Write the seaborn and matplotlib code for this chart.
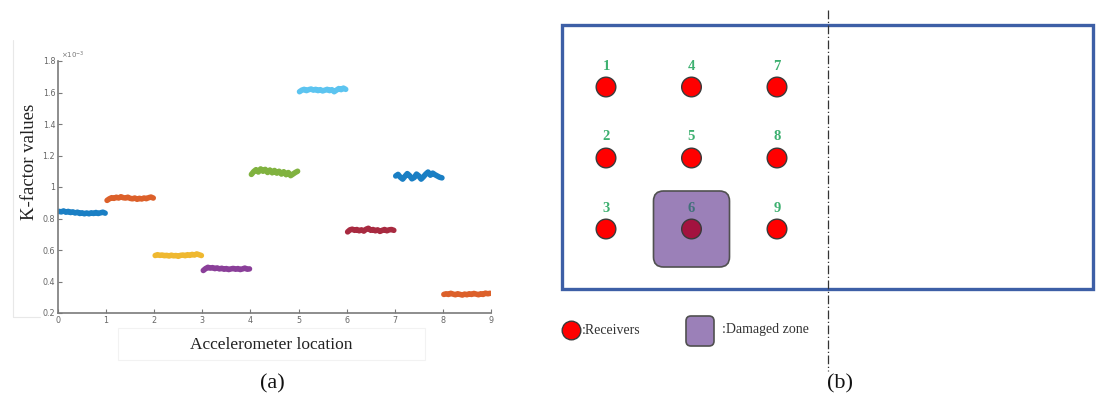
import numpy as np
import pandas as pd
import matplotlib
matplotlib.use("Agg")
import matplotlib.pyplot as plt
from matplotlib.patches import FancyBboxPatch, Rectangle
from matplotlib.ticker import FuncFormatter
import seaborn as sns

# ---------------- data ----------------
locations = [0, 1, 2, 3, 4, 5, 6, 7, 8]
# K-factor values (x 1e-3) read along each accelerometer segment
seg0 = [0.845, 0.842, 0.848, 0.840, 0.845, 0.838, 0.842, 0.835, 0.840, 0.832, 0.836,
        0.830, 0.835, 0.830, 0.836, 0.832, 0.838, 0.832, 0.836, 0.840, 0.834]
seg1 = [0.915, 0.925, 0.932, 0.928, 0.935, 0.930, 0.938, 0.932, 0.930, 0.935, 0.928,
        0.925, 0.930, 0.922, 0.928, 0.924, 0.930, 0.926, 0.932, 0.936, 0.930]
seg2 = [0.565, 0.570, 0.566, 0.568, 0.564, 0.566, 0.562, 0.567, 0.563, 0.565, 0.560,
        0.566, 0.568, 0.564, 0.570, 0.566, 0.572, 0.568, 0.575, 0.570, 0.565]
seg3 = [0.470, 0.482, 0.490, 0.485, 0.488, 0.482, 0.486, 0.480, 0.484, 0.478, 0.482,
        0.476, 0.480, 0.483, 0.478, 0.482, 0.476, 0.480, 0.485, 0.478, 0.480]
seg4 = [1.080, 1.098, 1.110, 1.095, 1.115, 1.100, 1.112, 1.092, 1.108, 1.090, 1.105,
        1.088, 1.100, 1.082, 1.097, 1.078, 1.092, 1.072, 1.082, 1.092, 1.100]
seg5 = [1.605, 1.615, 1.620, 1.612, 1.618, 1.622, 1.615, 1.620, 1.612, 1.618, 1.610,
        1.615, 1.620, 1.612, 1.618, 1.605, 1.615, 1.625, 1.618, 1.628, 1.620]
seg6 = [0.715, 0.728, 0.732, 0.725, 0.730, 0.722, 0.728, 0.720, 0.732, 0.738, 0.725,
        0.730, 0.722, 0.728, 0.718, 0.725, 0.730, 0.722, 0.728, 0.730, 0.725]
seg7 = [1.070, 1.080, 1.062, 1.050, 1.068, 1.085, 1.072, 1.052, 1.060, 1.082, 1.070,
        1.050, 1.065, 1.082, 1.095, 1.075, 1.088, 1.078, 1.070, 1.062, 1.058]
seg8 = [0.318, 0.322, 0.318, 0.325, 0.320, 0.316, 0.322, 0.318, 0.314, 0.320, 0.316,
        0.322, 0.318, 0.324, 0.320, 0.316, 0.322, 0.318, 0.326, 0.322, 0.325]
segments = [seg0, seg1, seg2, seg3, seg4, seg5, seg6, seg7, seg8]
x_ticks = [0, 1, 2, 3, 4, 5, 6, 7, 8, 9]
y_ticks = [0.2, 0.4, 0.6, 0.8, 1.0, 1.2, 1.4, 1.6, 1.8]

# diagram (b) data
receiver_ids = [1, 2, 3, 4, 5, 6, 7, 8, 9]
receiver_col = [0, 0, 0, 1, 1, 1, 2, 2, 2]
receiver_row = [0, 1, 2, 0, 1, 2, 0, 1, 2]
damaged_receiver = 6

# ---------------- style ----------------
matlab = ["#1a7fc4", "#dc602a", "#efb830", "#8a3f99", "#80b23f",
          "#5cc4f0", "#a82a40", "#1a7fc4", "#dc602a"]
SERIF = ["Liberation Serif", "DejaVu Serif"]
W, H = 1104, 404

sns.set_style("white")
plt.rcParams["font.family"] = ["DejaVu Sans"]

fig = plt.figure(figsize=(W / 100, H / 100), dpi=100)

def fx(px):
    return px / W

def fy(py):
    return 1 - py / H

# ---------------- panel (a) ----------------
rows = []
for loc, seg in zip(locations, segments):
    n = len(seg)
    xs = loc + 0.02 + 0.96 * np.arange(n) / (n - 1)
    for xv, kv in zip(xs, seg):
        rows.append({"x": xv, "k": kv, "seg": str(loc)})
df = pd.DataFrame(rows)

ax = fig.add_axes([fx(58), fy(313), fx(491) - fx(58), fy(61) - fy(313)])
sns.lineplot(data=df, x="x", y="k", hue="seg", palette=matlab, ax=ax,
             legend=False, linewidth=4.0, estimator=None, sort=False)
ax.set_xlim(0, 9)
ax.set_ylim(0.2, 1.8)
ax.set_xticks(x_ticks)
ax.set_yticks(y_ticks)
ax.yaxis.set_major_formatter(FuncFormatter(lambda v, p: f"{v:g}"))
ax.set_xlabel("")
ax.set_ylabel("")
for s in ["top", "right"]:
    ax.spines[s].set_visible(False)
for s in ["left", "bottom"]:
    ax.spines[s].set_color("#7a7a7a")
    ax.spines[s].set_linewidth(1.2)
ax.tick_params(direction="in", length=3, width=0.8, color="#7a7a7a",
               labelsize=5.8, labelcolor="#666666", pad=2)
ax.tick_params(axis="y", left=True)
ax.tick_params(axis="x", bottom=True)
ax.text(0.008, 1.0, r"$\times10^{-3}$", transform=ax.transAxes, fontsize=5,
        color="#777777", va="bottom", ha="left")
ax.patch.set_alpha(0)

fig.text(fx(30), fy(162), "K-factor values", rotation=90, ha="center", va="center",
         fontsize=13.5, family=SERIF, color="#222222")
fig.text(fx(271), fy(345), "Accelerometer location", ha="center", va="center",
         fontsize=12.5, family=SERIF, color="#222222")
fig.text(fx(272), fy(384), "(a)", ha="center", va="center",
         fontsize=16, family=SERIF, color="#111111")

# ---------------- panel (b) ----------------
bx = fig.add_axes([0, 0, 1, 1], zorder=-1)

# faint leftover image borders in panel (a)
bx.plot([13, 13], [40, 317], color="#e8e8e8", lw=0.8)
bx.plot([13, 40], [317, 317], color="#e8e8e8", lw=0.8)
bx.add_patch(Rectangle((118, 328), 307, 32, fill=False, ec="#f2f2f2", lw=0.8))

# plate outline
bx.add_patch(Rectangle((562, 25), 531, 264, fill=False, ec="#3d5fa6", lw=2.4, zorder=2))
# symmetry line
bx.plot([828, 828], [10, 371], color="#333333", lw=0.9,
        linestyle=(0, (7, 2, 1, 2)), zorder=3)

col_x0, col_dx = 606, 85.5
row_y0, row_dy = 87, 71
rx = [col_x0 + c * col_dx for c in receiver_col]
ry = [row_y0 + r * row_dy for r in receiver_row]

# damaged zone
dz_i = receiver_ids.index(damaged_receiver)
bx.add_patch(FancyBboxPatch((rx[dz_i] - 30, ry[dz_i] - 30), 60, 60,
                            boxstyle="round,pad=8,rounding_size=10",
                            fc="#9b80b8", ec="#505050", lw=1.2, zorder=3))

rdf = pd.DataFrame({"x": rx, "y": ry, "id": receiver_ids})
rdf["kind"] = np.where(rdf["id"] == damaged_receiver, "damaged", "ok")
sns.scatterplot(data=rdf, x="x", y="y", hue="kind",
                palette={"ok": "#ff0000", "damaged": "#a3123f"},
                s=200, edgecolor="#3a3a3a", linewidth=1.0, legend=False,
                ax=bx, zorder=4)

for xi, yi, rid in zip(rx, ry, receiver_ids):
    bx.text(xi, yi - 21, str(rid), ha="center", va="center", fontsize=10.5,
            family=SERIF, fontweight="bold",
            color="#41707a" if rid == damaged_receiver else "#3db070", zorder=5)

# legend of the diagram
sns.scatterplot(x=[571], y=[330], color="#ff0000", s=180, edgecolor="#3a3a3a",
                linewidth=1.0, ax=bx, zorder=4, legend=False)
bx.text(582, 330, ":Receivers", ha="left", va="center", fontsize=10,
        family=SERIF, color="#333333")
bx.add_patch(FancyBboxPatch((690, 320), 20, 22,
                            boxstyle="round,pad=4,rounding_size=5",
                            fc="#9b80b8", ec="#505050", lw=1.2, zorder=3))
bx.text(722, 330, ":Damaged zone", ha="left", va="center", fontsize=10,
        family=SERIF, color="#333333")
bx.set_xlim(0, W)
bx.set_ylim(H, 0)
bx.axis("off")

fig.text(fx(840), fy(384), "(b)", ha="center", va="center",
         fontsize=16, family=SERIF, color="#111111")

fig.savefig("out.png", dpi=100)
